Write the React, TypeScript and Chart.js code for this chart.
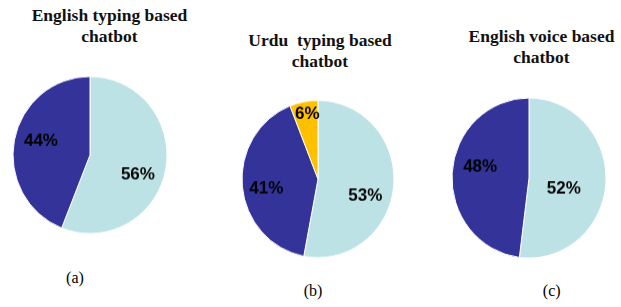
import React, { useEffect, useRef } from "react";
import { Chart, registerables } from "chart.js";

Chart.register(...registerables);

// ---- data ----
const sliceCategories = ["Share 1", "Share 2", "Share 3"];
const englishTypingValues = [56, 44];
const urduTypingValues = [53, 41, 6];
const englishVoiceValues = [52, 48];
const chartTitles = [
  ["English typing based", "chatbot"],
  ["Urdu  typing based", "chatbot"],
  ["English voice based", "chatbot"],
];
const captions = ["(a)", "(b)", "(c)"];

// ---- styles ----
const LIGHT = "#BCE2E6";
const DARK = "#333399";
const ORANGE = "#FFC000";
const SERIF = '"Liberation Serif", "Times New Roman", serif';

type PieProps = {
  values: number[];
  colors: string[];
  cx: number;
  cy: number;
  radius: number;
  scaleY: number;
  labelFrac: number[];
  labelShift: number[];
};

function PieChart({ values, colors, cx, cy, radius, scaleY, labelFrac, labelShift }: PieProps) {
  const ref = useRef<HTMLCanvasElement | null>(null);
  const size = radius * 2 + 6;
  useEffect(() => {
    if (!ref.current) return;
    const labelPlugin = {
      id: "pctLabels",
      afterDatasetsDraw(chart: any) {
        const ctx = chart.ctx;
        const meta = chart.getDatasetMeta(0);
        const data = chart.data.datasets[0].data as number[];
        ctx.save();
        ctx.font = 'bold 17px "Liberation Sans", Arial, sans-serif';
        ctx.fillStyle = "#000000";
        ctx.textAlign = "center";
        ctx.textBaseline = "middle";
        meta.data.forEach((arc: any, i: number) => {
          const p = arc.getProps(["x", "y", "startAngle", "endAngle", "outerRadius"], true);
          const mid = (p.startAngle + p.endAngle) / 2 + ((labelShift[i] || 0) * Math.PI) / 180;
          const r = p.outerRadius * labelFrac[i];
          ctx.fillText(data[i] + "%", p.x + Math.cos(mid) * r, p.y + Math.sin(mid) * r);
        });
        ctx.restore();
      },
    };
    const chart = new Chart(ref.current, {
      type: "pie",
      data: {
        labels: sliceCategories.slice(0, values.length),
        datasets: [
          {
            data: values,
            backgroundColor: colors,
            borderColor: "#ffffff",
            borderWidth: 1,
            radius: radius,
          } as any,
        ],
      },
      options: {
        animation: false,
        responsive: false,
        devicePixelRatio: 1,
        layout: { padding: 0 },
        plugins: {
          legend: { display: false },
          tooltip: { enabled: false },
          title: { display: false },
        },
      },
      plugins: [labelPlugin],
    });
    return () => chart.destroy();
  }, []);
  return (
    <div
      style={{
        position: "absolute",
        left: cx - size / 2,
        top: cy - size / 2,
        width: size,
        height: size,
        transform: `scaleY(${scaleY})`,
        transformOrigin: "center center",
      }}
    >
      <canvas ref={ref} width={size} height={size} style={{ display: "block" }} />
    </div>
  );
}

function Title({ lines, cx, top }: { lines: string[]; cx: number; top: number }) {
  return (
    <div
      style={{
        position: "absolute",
        left: cx - 110,
        top,
        width: 220,
        textAlign: "center",
        fontFamily: SERIF,
        fontWeight: 700,
        fontSize: "17.5px",
        lineHeight: "21px",
        color: "#111111",
        whiteSpace: "pre",
      }}
    >
      {lines.map((l, i) => (
        <div key={i}>{l}</div>
      ))}
    </div>
  );
}

function Caption({ text, cx, top }: { text: string; cx: number; top: number }) {
  return (
    <div
      style={{
        position: "absolute",
        left: cx - 30,
        top,
        width: 60,
        textAlign: "center",
        fontFamily: SERIF,
        fontSize: "16px",
        lineHeight: "18px",
        color: "#000000",
      }}
    >
      {text}
    </div>
  );
}

export default function App() {
  return (
    <div
      style={{
        position: "absolute",
        left: 0,
        top: 0,
        width: 621,
        height: 307,
        background: "#ffffff",
        overflow: "hidden",
      }}
    >
      <Title lines={chartTitles[0]} cx={109.5} top={4.5} />
      <Title lines={chartTitles[1]} cx={320} top={29.5} />
      <Title lines={chartTitles[2]} cx={541.5} top={26} />

      <PieChart
        values={englishTypingValues}
        colors={[LIGHT, DARK]}
        cx={89.7}
        cy={154.5}
        radius={77}
        scaleY={1.02}
        labelFrac={[0.67, 0.66]}
        labelShift={[11, 4.4]}
      />
      <PieChart
        values={urduTypingValues}
        colors={[LIGHT, DARK, ORANGE]}
        cx={317.8}
        cy={179.3}
        radius={76}
        scaleY={1.035}
        labelFrac={[0.66, 0.69, 0.84]}
        labelShift={[14, -4.5, 1.2]}
      />
      <PieChart
        values={englishVoiceValues}
        colors={[LIGHT, DARK]}
        cx={528.7}
        cy={178.3}
        radius={77}
        scaleY={1.04}
        labelFrac={[0.47, 0.65]}
        labelShift={[12.5, 9]}
      />

      <Caption text={captions[0]} cx={75} top={269} />
      <Caption text={captions[1]} cx={313} top={282.4} />
      <Caption text={captions[2]} cx={551.7} top={281.9} />
    </div>
  );
}
